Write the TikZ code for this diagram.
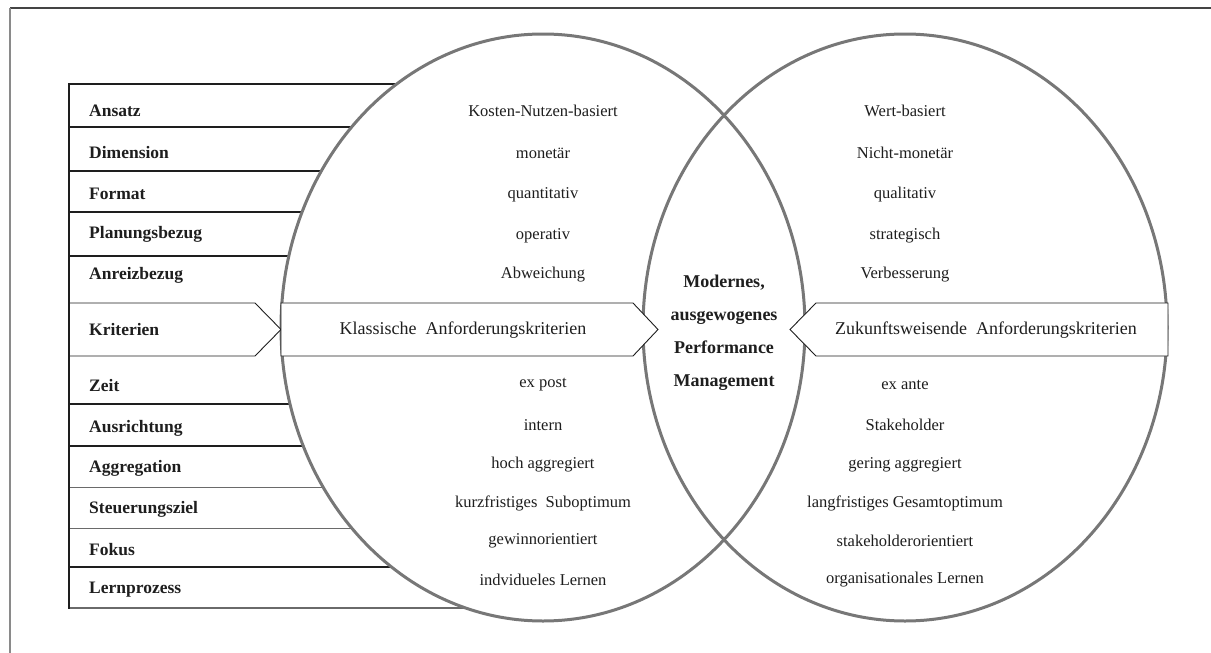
\documentclass[tikz,border=0pt]{standalone}
\usepackage{fontspec}
\setmainfont{Liberation Serif}
\definecolor{ink}{HTML}{1E1E1E}
\definecolor{ovalgray}{HTML}{777777}
\definecolor{framedark}{HTML}{444444}
\definecolor{framelight}{HTML}{8A8A8A}
\definecolor{rulegray}{HTML}{6A6A6A}
\begin{document}
\begin{tikzpicture}[x=1pt,y=-1pt,
  heavy/.style={draw=ink,line width=2pt},
  light/.style={draw=rulegray,line width=1pt},
  base/.style={draw=rulegray,line width=1.8pt},
  oval/.style={draw=ovalgray,line width=3pt},
  pointer/.style={draw=ink,line width=0.9pt,fill=white,line join=miter},
  lbl/.style={anchor=west,text=ink,inner sep=0pt,font=\bfseries\fontsize{17.5}{20}\selectfont},
  entry/.style={text=ink,inner sep=0pt,font=\fontsize{16.5}{19}\selectfont},
  banner/.style={text=ink,inner sep=0pt,font=\fontsize{18}{21}\selectfont},
  hub/.style={text=ink,inner sep=0pt,align=center,font=\bfseries\fontsize{18}{33}\selectfont}]
\useasboundingbox (0,0) rectangle (1211,653);

% outer frame (top and left edges)
\draw[draw=framedark,line width=1.4pt] (10,8) -- (1211,8);
\draw[draw=framelight,line width=1.8pt] (10,8) -- (10,653);

% row rules of the criteria table, running into the left oval
\foreach \yy/\st in {84/heavy,127/heavy,171/heavy,212/heavy,256/heavy,
                     404/heavy,446/heavy,487/light,528/light,567/heavy,608/base}
  \draw[\st] (69,\yy) -- (543,\yy);

% the two ovals: white interiors first, then the outlines
\fill[white] (543,327.5) ellipse [x radius=262,y radius=293.5];
\fill[white] (905,327.5) ellipse [x radius=262,y radius=293.5];
\draw[oval] (543,327.5) ellipse [x radius=262,y radius=293.5];
\draw[oval] (905,327.5) ellipse [x radius=262,y radius=293.5];

% pointer shapes
\draw[pointer] (69,303) -- (255,303) -- (281,329.5) -- (255,356) -- (69,356);
\draw[pointer] (281,303) -- (633,303) -- (658,329.5) -- (633,356) -- (281,356) -- cycle;
\draw[pointer] (1168,303) -- (816,303) -- (790,329.5) -- (816,356) -- (1168,356) -- cycle;

% table spine
\draw[heavy] (69,83) -- (69,609);

% row labels
\node[lbl] (lAnsatz) at (89,111) {Ansatz};
\node[lbl] (lDim) at (89,153) {Dimension};
\node[lbl] (lFormat) at (89,194) {Format};
\node[lbl] (lPlan) at (89,234) {Planungsbezug};
\node[lbl] (lAnreiz) at (89,275) {Anreizbezug};
\node[lbl] (lKrit) at (89,330) {Kriterien};
\node[lbl] (lZeit) at (89,386) {Zeit};
\node[lbl] (lAusr) at (89,428) {Ausrichtung};
\node[lbl] (lAggr) at (89,468) {Aggregation};
\node[lbl] (lSteu) at (89,509) {Steuerungsziel};
\node[lbl] (lFokus) at (89,550) {Fokus};
\node[lbl] (lLern) at (89,590) {Lernprozess};

% classic criteria (left oval)
\node[entry] (c1) at (543,111) {Kosten-Nutzen-basiert};
\node[entry] (c2) at (543,153) {monetär};
\node[entry] (c3) at (543,195) {quantitativ};
\node[entry] (c4) at (543,236) {operativ};
\node[entry] (c5) at (543,275) {Abweichung};
\node[entry] (c6) at (543,385) {ex post};
\node[entry] (c7) at (543,425) {intern};
\node[entry] (c8) at (543,465) {hoch aggregiert};
\node[entry] (c9) at (543,503) {kurzfristiges\ \ Suboptimum};
\node[entry] (c10) at (543,541) {gewinnorientiert};
\node[entry] (c11) at (543,580) {indvidueles Lernen};

% forward-looking criteria (right oval)
\node[entry] (f1) at (905,111) {Wert-basiert};
\node[entry] (f2) at (905,153) {Nicht-monetär};
\node[entry] (f3) at (905,195) {qualitativ};
\node[entry] (f4) at (905,236) {strategisch};
\node[entry] (f5) at (905,275) {Verbesserung};
\node[entry] (f6) at (905,385) {ex ante};
\node[entry] (f7) at (905,425) {Stakeholder};
\node[entry] (f8) at (905,465) {gering aggregiert};
\node[entry] (f9) at (905,503) {langfristiges Gesamtoptimum};
\node[entry] (f10) at (905,541) {stakeholderorientiert};
\node[entry] (f11) at (905,580) {organisationales Lernen};

% banners and centre
\node[banner] (klass) at (463,330) {Klassische\ \ Anforderungskriterien};
\node[banner] (zukunft) at (986,330) {Zukunftsweisende\ \ Anforderungskriterien};
\node[hub] (centre) at (724,333) {Modernes,\\ausgewogenes\\Performance\\Management};
\end{tikzpicture}
\end{document}
